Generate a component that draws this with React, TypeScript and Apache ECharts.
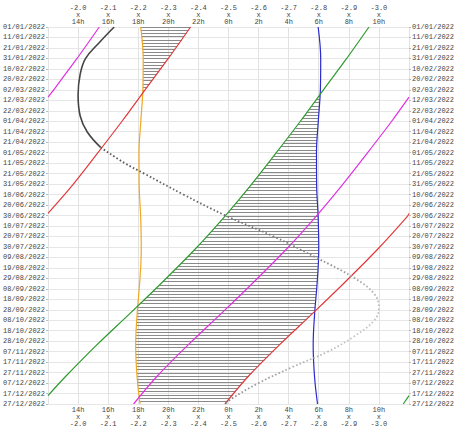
import React, { useEffect, useRef } from 'react';
import * as echarts from 'echarts';

// Y axis: day of year (0 = 01/01/2022), labels every 10 days
const dateLabels = ['01/01/2022', '11/01/2022', '21/01/2022', '31/01/2022', '10/02/2022', '20/02/2022', '02/03/2022', '12/03/2022', '22/03/2022', '01/04/2022', '11/04/2022', '21/04/2022', '01/05/2022', '11/05/2022', '21/05/2022', '31/05/2022', '10/06/2022', '20/06/2022', '30/06/2022', '10/07/2022', '20/07/2022', '30/07/2022', '09/08/2022', '19/08/2022', '29/08/2022', '08/09/2022', '18/09/2022', '28/09/2022', '08/10/2022', '18/10/2022', '28/10/2022', '07/11/2022', '17/11/2022', '27/11/2022', '07/12/2022', '17/12/2022', '27/12/2022'];

// X axis: hours (12h .. 36h = 12h next day); tick labels
const hourLabels = ['14h', '16h', '18h', '20h', '22h', '0h', '2h', '4h', '6h', '8h', '10h'];
const magLabels = ['-2.0', '-2.1', '-2.2', '-2.3', '-2.4', '-2.5', '-2.6', '-2.7', '-2.8', '-2.9', '-3.0'];

// Sun (hours)
const sunDays = [0, 31, 59, 90, 120, 151, 181, 212, 243, 273, 304, 334, 360];
const sunsetH = [18.16, 18.33, 18.31, 18.17, 18.05, 18.06, 18.16, 18.2, 18.1, 17.93, 17.83, 17.92, 18.12];
const sunriseH = [29.96, 30.13, 30.11, 29.97, 29.85, 29.86, 29.96, 30.0, 29.9, 29.73, 29.63, 29.72, 29.92];

// Planet transit (magenta), [day, hour]
const transitA = [[0, 15.41], [31, 13.88], [59, 12.43], [67, 12.0]];
const transitB = [[67, 36.0], [90, 34.85], [120, 33.25], [151, 31.56], [181, 29.81], [212, 27.86], [243, 25.72], [273, 23.56], [304, 21.28], [334, 19.22], [360, 17.69]];
// Planet rise (green)
const riseA = [[0, 33.34], [31, 31.81], [59, 30.36], [90, 28.78], [120, 27.18], [151, 25.49], [181, 23.74], [212, 21.79], [243, 19.65], [273, 17.49], [304, 15.21], [334, 13.15], [352, 12.0]];
const riseB = [[352, 36.0], [360, 35.62]];
// Planet set (red)
const setA = [[0, 21.48], [31, 19.95], [59, 18.5], [90, 16.92], [120, 15.32], [151, 13.63], [178, 12.0]];
const setB = [[178, 36.0], [181, 35.88], [212, 33.93], [243, 31.79], [273, 29.63], [304, 27.35], [334, 25.29], [360, 23.76]];

// Magnitude (grey curve)
const magDays = [0, 15, 30, 45, 65, 85, 100, 115, 130, 140, 160, 180, 200, 220, 240, 255, 268, 280, 295, 310, 325, 340, 355, 360];
const magnitude = [-2.12, -2.07, -2.025, -2.007, -2.0, -2.007, -2.03, -2.075, -2.155, -2.22, -2.35, -2.49, -2.65, -2.79, -2.92, -2.985, -3.0, -2.985, -2.92, -2.83, -2.71, -2.6, -2.51, -2.49];

const HATCH_STEP = 3;
const FONT = 'Liberation Mono';

function interp(pts: number[][], d: number): number | null {
  for (let i = 0; i < pts.length - 1; i++) {
    const [d0, h0] = pts[i];
    const [d1, h1] = pts[i + 1];
    if (d >= d0 && d <= d1) return d1 === d0 ? h0 : h0 + ((h1 - h0) * (d - d0)) / (d1 - d0);
  }
  return null;
}

function buildHatch(): number[][] {
  const sunsetPts = sunDays.map((d, i) => [d, sunsetH[i]]);
  const sunrisePts = sunDays.map((d, i) => [d, sunriseH[i]]);
  const out: number[][] = [];
  for (let d = 0; d <= 360; d += HATCH_STEP) {
    const s = interp(sunsetPts, d) as number;
    const r = interp(sunrisePts, d) as number;
    const R = d <= 352 ? (interp(riseA, d) as number) : (interp(riseB, d) as number);
    const S = d <= 178 ? (interp(setA, d) as number) : (interp(setB, d) as number);
    const ups: number[][] = R < S ? [[R, S]] : [[12, S], [R, 36]];
    ups.forEach(([a, b]) => {
      const x1 = Math.max(a, s);
      const x2 = Math.min(b, r);
      if (x2 > x1) out.push([x1, x2, d]);
    });
  }
  return out;
}

export default function App() {
  const ref = useRef<HTMLDivElement>(null);
  useEffect(() => {
    if (!ref.current) return;
    const chart = echarts.init(ref.current, null, { renderer: 'svg' });
    const labelFmt = (top: boolean) => (v: number) => {
      const i = Math.round((v - 14) / 2);
      if (i < 0 || i > 10) return '';
      return top ? `${magLabels[i]}\nx\n${hourLabels[i]}` : `${hourLabels[i]}\nx\n${magLabels[i]}`;
    };
    const xBase = {
      type: 'value',
      min: 12,
      max: 36,
      interval: 2,
      axisLine: { show: false },
      axisTick: { show: false },
    };
    const yBase = {
      type: 'value',
      inverse: true,
      min: 0,
      max: 360,
      interval: 10,
      axisLine: { show: false },
      axisTick: { show: true, length: 2, lineStyle: { color: '#bbb' } },
      axisLabel: {
        fontFamily: FONT,
        fontSize: 7,
        color: '#444',
        margin: 3,
        formatter: (v: number) => dateLabels[Math.round(v / 10)] ?? '',
      },
    };
    const line = (data: number[][], color: string, name: string) => ({
      type: 'line',
      name,
      data: data.map(([d, h]) => [h, d]),
      smooth: 0.3,
      showSymbol: false,
      symbol: 'none',
      lineStyle: { color, width: 1.2 },
      z: 5,
    });
    const magPts = magDays.map((d, i) => [magnitude[i], d]);
    chart.setOption({
      animation: false,
      backgroundColor: '#fff',
      grid: { left: 46, right: 43, top: 27, bottom: 25 },
      xAxis: [
        {
          ...xBase,
          position: 'bottom',
          splitLine: { show: true, lineStyle: { color: '#e2e2e2', width: 1 } },
          axisLabel: { fontFamily: FONT, fontSize: 7, lineHeight: 7, color: '#444', margin: 2, formatter: labelFmt(false) },
        },
        {
          ...xBase,
          position: 'top',
          splitLine: { show: false },
          axisLabel: { fontFamily: FONT, fontSize: 7, lineHeight: 7, color: '#444', margin: 2, formatter: labelFmt(true) },
        },
        {
          type: 'value',
          show: false,
          inverse: true,
          min: -3.1,
          max: -1.9,
          splitLine: { show: false },
        },
      ],
      yAxis: [
        { ...yBase, position: 'left', splitLine: { show: true, lineStyle: { color: '#e6e6e6', width: 1 } } },
        { ...yBase, position: 'right', splitLine: { show: false } },
      ],
      series: [
        {
          type: 'custom',
          name: 'visible',
          silent: true,
          z: 1,
          clip: true,
          encode: { x: [0, 1], y: 2 },
          data: buildHatch(),
          renderItem: (params: any, api: any) => {
            const p1 = api.coord([api.value(0), api.value(2)]);
            const p2 = api.coord([api.value(1), api.value(2)]);
            const y = Math.round(p1[1]) + 0.5;
            return {
              type: 'line',
              shape: { x1: p1[0], y1: y, x2: p2[0], y2: y },
              style: { stroke: '#8a8a8a', lineWidth: 1 },
            };
          },
        },
        {
          type: 'line',
          name: 'sunset',
          data: sunDays.map((d, i) => [sunsetH[i], d]),
          smooth: 0.4,
          symbol: 'none',
          lineStyle: { color: '#f0a820', width: 1.2 },
          z: 4,
        },
        {
          type: 'line',
          name: 'sunrise',
          data: sunDays.map((d, i) => [sunriseH[i], d]),
          smooth: 0.4,
          symbol: 'none',
          lineStyle: { color: '#2a2ad0', width: 1.2 },
          z: 4,
        },
        line(riseA, '#2e9a2e', 'rise'),
        line(riseB, '#2e9a2e', 'rise2'),
        line(transitA, '#e030e0', 'transit'),
        line(transitB, '#e030e0', 'transit2'),
        line(setA, '#e03a3a', 'set'),
        line(setB, '#e03a3a', 'set2'),
        {
          type: 'line',
          name: 'mag',
          xAxisIndex: 2,
          data: magPts.slice(0, 8),
          smooth: 0.4,
          symbol: 'none',
          lineStyle: { color: '#444', width: 1.6 },
          z: 6,
        },
        {
          type: 'line',
          name: 'mag2',
          xAxisIndex: 2,
          data: magPts.slice(7),
          smooth: 0.4,
          symbol: 'none',
          lineStyle: {
            width: 1.8,
            type: [1.6, 2.2],
            color: new echarts.graphic.LinearGradient(0, 0, 0, 1, [
              { offset: 0, color: '#555' },
              { offset: 0.35, color: '#777' },
              { offset: 0.6, color: '#bbb' },
              { offset: 0.75, color: '#c8c8c8' },
              { offset: 1, color: '#888' },
            ]),
          },
          z: 6,
        },
      ],
    });
    return () => chart.dispose();
  }, []);
  return <div ref={ref} style={{ width: 457, height: 429, position: 'absolute', left: 0, top: 0 }} />;
}
